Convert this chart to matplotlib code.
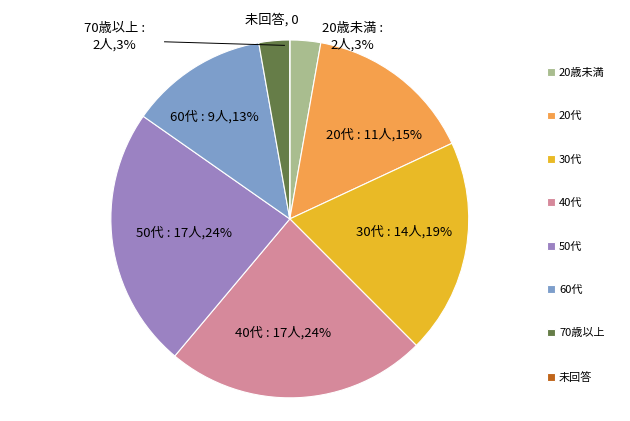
import matplotlib
matplotlib.use("Agg")
import matplotlib.pyplot as plt

plt.rcParams['font.family'] = ['Noto Sans CJK JP', 'DejaVu Sans']

categories = ["20歳未満", "20代", "30代", "40代", "50代", "60代", "70歳以上", "未回答"]
counts = [2, 11, 14, 17, 17, 9, 2, 0]
percents = [3, 15, 19, 24, 24, 13, 3, 0]
colors = ["#a9bd8f", "#f5a04c", "#e9ba26", "#d6899b", "#9b82c2", "#7d9ecb", "#667d48", "#c0651a"]

fig = plt.figure(figsize=(6.3, 4.21), dpi=100)
ax = fig.add_axes([0.176, 0.055, 0.568, 0.850])
wedges, _ = ax.pie(counts, colors=colors, startangle=90, counterclock=False,
                   wedgeprops=dict(edgecolor="white", linewidth=0.8))
ax.set_xlim(-1, 1)
ax.set_ylim(-1, 1)
ax.set_aspect("equal")

# inside / outside labels (axes data coords, pie radius = 1)
pos = {
    "20代": (0.47, 0.47), "30代": (0.64, -0.07), "40代": (-0.04, -0.64),
    "50代": (-0.59, -0.08), "60代": (-0.42, 0.57),
}
for cat, c, p in zip(categories, counts, percents):
    if cat in pos:
        ax.text(*pos[cat], f"{cat} : {c}人,{p}%", ha="center", va="center", fontsize=9.5)
ax.text(0.35, 1.02, f"{categories[0]} :\n{counts[0]}人,{percents[0]}%", ha="center",
        va="center", fontsize=9.5, linespacing=1.3, clip_on=False)
ax.text(-0.98, 1.02, f"{categories[6]} :\n{counts[6]}人,{percents[6]}%", ha="center",
        va="center", fontsize=9.5, linespacing=1.3, clip_on=False)
ax.text(-0.1, 1.11, f"{categories[7]}, {counts[7]}", ha="center", va="center",
        fontsize=9.5, clip_on=False)
ax.plot([-0.7, -0.03], [0.99, 0.97], color="black", lw=0.7, clip_on=False)

fig.legend(wedges, categories, loc="upper left", bbox_to_anchor=(0.852, 0.862),
           frameon=False, fontsize=8, labelspacing=3.0, handlelength=0.7,
           handleheight=0.7, handletextpad=0.4)

fig.savefig("out.png", dpi=100)
